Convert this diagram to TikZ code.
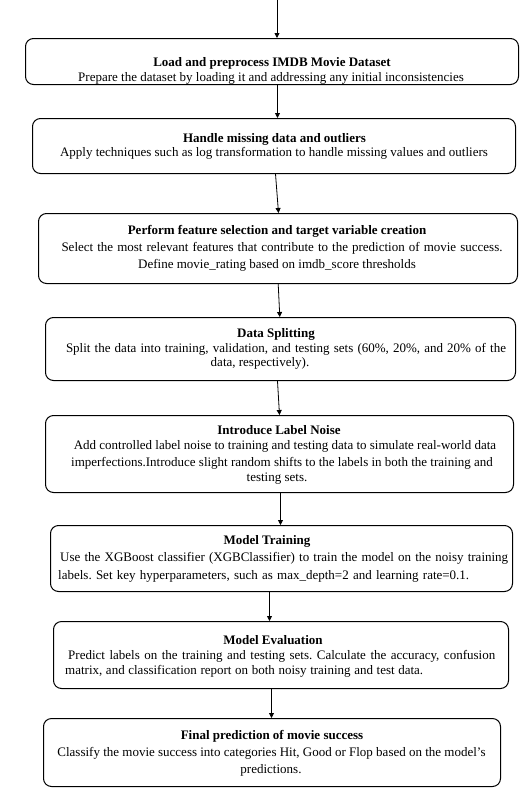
\documentclass[tikz,border=0pt]{standalone}
\usepackage{fontspec}
\setmainfont{Liberation Serif}
\usetikzlibrary{arrows.meta}
\frenchspacing
\newcommand{\jline}[2]{\makebox[#1pt][s]{#2}}
\begin{document}
\begin{tikzpicture}[x=1pt,y=-1pt,
  box/.style={draw, rounded corners=8pt, line width=1pt, inner sep=0pt, anchor=north west},
  ln/.style={font=\fontsize{13}{15}\selectfont\frenchspacing, inner sep=0pt, anchor=base},
  lnl/.style={ln, anchor=base west},
  ttl/.style={ln, font=\fontsize{13}{15}\selectfont\bfseries},
  arr/.style={line width=0.8pt, -{Triangle[length=5pt,width=5pt]}}]
\useasboundingbox (0,0) rectangle (532,811);

% boxes
\node[box, minimum width=493pt, minimum height=46pt] (b1) at (25,38) {};
\node[box, minimum width=483pt, minimum height=55pt] (b2) at (32,118) {};
\node[box, minimum width=479pt, minimum height=70pt] (b3) at (38,213) {};
\node[box, minimum width=470pt, minimum height=63pt] (b4) at (45,317) {};
\node[box, minimum width=468pt, minimum height=77pt] (b5) at (45,415) {};
\node[box, minimum width=462pt, minimum height=66pt] (b6) at (50,525) {};
\node[box, minimum width=455pt, minimum height=67pt] (b7) at (53,621) {};
\node[box, minimum width=457pt, minimum height=68pt] (b8) at (43,718) {};

% texts
\node[ttl] (t1) at (272,66) {Load and preprocess IMDB Movie Dataset};
\node[ln] (t1a) at (271,81) {Prepare the dataset by loading it and addressing any initial inconsistencies};

\node[ttl] (t2) at (274.5,142) {Handle missing data and outliers};
\node[ln] (t2a) at (274,156) {Apply techniques such as log transformation to handle missing values and outliers};

\node[ttl] (t3) at (277,234) {Perform feature selection and target variable creation};
\node[ln] (t3a) at (282,251) {\jline{441}{Select the most relevant features that contribute to the prediction of movie success.}};
\node[ln] (t3b) at (277,268) {Define movie\_rating based on imdb\_score thresholds};

\node[ttl] (t4) at (276,337) {Data Splitting};
\node[ln] (t4a) at (286,352) {\jline{440}{Split the data into training, validation, and testing sets (60\%, 20\%, and 20\% of the}};
\node[ln] (t4b) at (260,366) {data, respectively).};

\node[ttl] (t5) at (279,434) {Introduce Label Noise};
\node[ln] (t5a) at (285,449) {Add controlled label noise to training and testing data to simulate real-world data};
\node[ln] (t5b) at (282,466) {imperfections.Introduce slight random shifts to the labels in both the training and};
\node[ln] (t5c) at (277,481) {testing sets.};

\node[ttl] (t6) at (267,544) {Model Training};
\node[lnl] (t6a) at (60,561) {\jline{448}{Use the XGBoost classifier (XGBClassifier) to train the model on the noisy training}};
\node[lnl] (t6b) at (58,579) {\jline{411}{labels. Set key hyperparameters, such as max\_depth=2 and learning rate=0.1.}};

\node[ttl] (t7) at (273,644) {Model Evaluation};
\node[lnl] (t7a) at (68,659) {\jline{427}{Predict labels on the training and testing sets. Calculate the accuracy, confusion}};
\node[lnl] (t7b) at (65,674) {\jline{358}{matrix, and classification report on both noisy training and test data.}};

\node[ttl] (t8) at (272,739) {Final prediction of movie success};
\node[ln] (t8a) at (271.5,756) {Classify the movie success into categories Hit, Good or Flop based on the model's};
\node[ln] (t8b) at (271,773) {predictions.};

% connectors
\coordinate (s) at (277,0);
\draw[arr] (s) -- (s |- b1.north);
\draw[arr] ([xshift=5.5pt]b1.south) -- ([xshift=3.5pt]b2.north);
\draw[arr] ([xshift=1.5pt]b2.south) -- ([xshift=0.5pt]b3.north);
\draw[arr] ([xshift=0.2pt]b3.south) -- ([xshift=-0.7pt]b4.north);
\draw[arr] ([xshift=-3pt]b4.south) -- ([xshift=0pt]b5.north);
\draw[arr] ([xshift=1pt]b5.south) -- ([xshift=-1pt]b6.north);
\draw[arr] ([xshift=-12pt]b6.south) -- ([xshift=-11.5pt]b7.north);
\draw[arr] ([xshift=-9.5pt]b7.south) -- ([xshift=-0.5pt]b8.north);
\end{tikzpicture}
\end{document}
